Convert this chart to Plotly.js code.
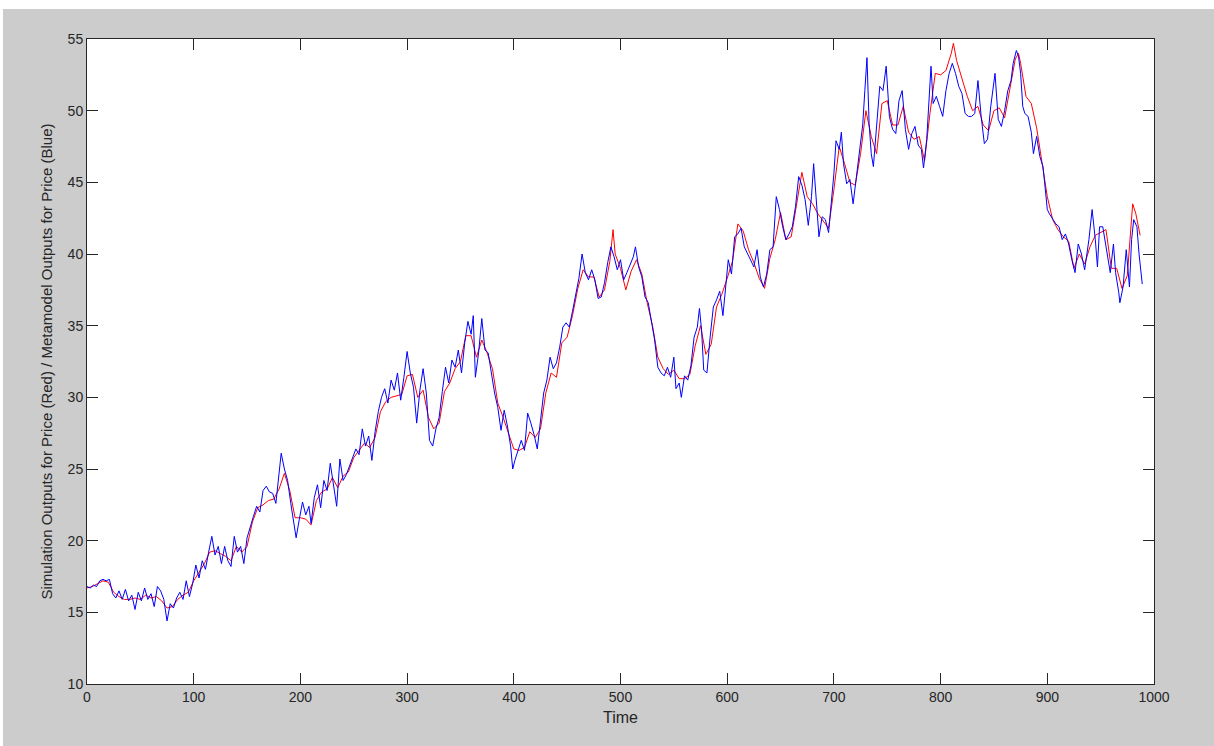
<!DOCTYPE html>
<html>
<head>
<meta charset="utf-8">
<script src="https://cdn.plot.ly/plotly-3.0.1.min.js"></script>
<style>
html,body{margin:0;padding:0;background:#ffffff;}
#frame{position:absolute;left:3px;top:9px;width:1211px;height:737px;background:#cccccc;}
#chart{width:1211px;height:737px;}
</style>
</head>
<body>
<div id="frame"><div id="chart"></div></div>
<script>
// Metamodel outputs (blue)
const blueTime = [0,3,6,9,12,15,18,21,24,27,30,33,36,39,42,45,48,51,54,57,60,63,66,69,72,75,78,81,84,87,90,93,96,99,
102,105,108,111,114,117,120,123,126,129,132,135,138,141,144,147,150,153,156,159,162,165,168,171,174,177,180,182,185,188,191,194,196,199,
202,205,208,210,213,216,219,222,225,228,231,234,237,240,243,246,249,252,255,258,261,264,267,270,273,276,279,282,285,288,291,294,297,
300,303,306,309,312,315,318,321,324,327,330,333,336,339,342,345,348,351,354,357,360,362,364,367,370,373,376,379,382,385,388,391,394,397,399,
401,404,407,410,413,416,419,422,425,428,431,434,437,440,443,446,449,452,455,458,461,464,467,470,473,476,479,482,485,488,491,494,497,
500,503,506,509,512,514,517,520,523,526,529,532,535,538,541,544,547,550,552,555,557,560,563,566,569,572,574,576,578,581,584,587,590,593,596,599,
601,604,607,610,613,616,619,622,625,628,631,634,637,640,643,646,649,652,655,658,661,664,667,670,673,676,679,681,684,686,689,692,695,698,
700,702,705,707,709,712,715,718,721,724,727,729,731,733,735,737,740,743,746,749,752,755,758,761,764,767,770,773,776,779,782,784,787,789,791,793,796,799,
802,805,808,811,814,817,820,823,826,829,832,835,838,841,844,847,851,854,857,860,863,866,868,871,873,875,877,879,882,885,887,890,893,896,898,
900,902,905,908,911,914,917,920,923,926,929,932,935,939,942,945,947,949,952,956,959,962,964,967,968,971,974,977,979,981,984,986,989];
const blueValue = [16.8,16.7,16.9,16.8,17.2,17.3,17.2,17.3,16.3,16.0,16.5,15.9,16.6,15.8,16.2,15.2,16.4,15.8,16.7,15.9,16.3,15.4,16.8,16.5,15.9,14.4,15.6,15.3,16.0,16.4,15.9,17.2,16.1,17.0,
18.3,17.4,18.6,18.0,19.2,20.3,19.0,19.6,18.4,19.6,18.6,18.2,20.3,19.2,19.6,18.4,20.2,21.0,21.7,22.4,22.0,23.5,23.8,23.4,23.3,22.6,24.5,26.1,25.0,24.2,22.6,21.2,20.2,21.5,
22.7,21.8,22.4,21.2,23.0,23.9,22.3,24.2,23.5,25.4,23.8,22.4,25.7,24.2,24.6,25.2,25.8,26.4,26.0,27.8,26.6,27.3,25.6,27.6,29.0,30.0,30.6,29.6,31.2,30.5,31.7,29.8,31.4,
33.2,31.7,30.7,28.2,30.5,32.0,30.3,27.0,26.6,27.8,28.6,30.4,32.1,31.0,32.6,32.1,33.3,31.7,33.8,35.3,34.4,35.7,31.4,33.1,35.5,33.3,33.1,31.7,30.3,29.3,27.7,29.1,28.0,26.6,25.0,
25.6,26.3,27.0,26.3,28.9,28.2,27.4,26.4,28.4,30.3,31.2,32.8,32.0,32.4,33.5,34.9,35.2,34.9,36.0,37.3,38.3,40.0,38.7,38.2,38.9,38.2,36.9,37.0,38.0,39.4,40.5,39.8,38.9,
39.6,38.2,38.7,39.3,39.8,40.5,39.1,38.4,37.0,36.6,35.2,34.0,32.1,31.7,31.5,32.1,31.4,32.8,30.6,31.0,30.0,31.5,31.2,32.2,34.2,34.9,36.2,34.7,31.9,31.7,34.2,36.3,36.8,37.4,35.7,37.9,
39.6,38.6,41.2,41.4,41.8,40.5,40.0,39.6,39.1,40.3,38.4,37.7,38.6,40.3,40.5,44.0,43.1,41.9,41.0,41.4,41.9,43.3,45.4,44.8,43.8,42.0,44.0,46.3,43.5,41.2,42.6,42.4,41.5,43.8,
45.6,47.9,47.3,48.5,46.3,44.9,45.2,43.5,45.4,47.0,49.0,51.4,53.7,49.1,47.0,46.1,49.1,51.7,51.4,53.1,49.6,48.7,48.4,50.7,51.4,48.7,47.3,48.4,48.9,47.6,47.3,46.0,48.0,50.3,53.1,50.5,51.0,50.3,
49.6,51.4,52.6,53.3,52.6,51.7,51.2,49.8,49.6,49.6,49.8,52.1,49.6,47.7,48.0,50.3,52.6,49.4,48.9,50.0,51.4,52.1,53.3,54.2,53.8,52.6,50.3,49.8,49.6,48.5,47.0,48.2,46.8,46.1,44.7,
43.1,42.8,42.4,42.1,41.9,41.0,41.4,40.7,39.6,38.7,40.7,40.0,38.9,41.0,43.1,41.0,39.1,41.9,41.9,40.0,38.7,40.7,38.7,37.3,36.6,37.7,40.3,37.7,41.0,42.4,41.9,40.0,37.9];

// Simulation outputs (red)
const redTime = [0,5,10,15,20,25,30,35,40,45,50,55,60,65,70,75,80,85,90,95,100,105,110,115,120,125,130,135,140,145,150,155,160,165,170,175,180,185,190,195,
200,205,210,215,220,225,230,235,240,245,250,255,260,265,270,275,280,285,290,295,300,305,310,315,320,325,330,335,340,345,350,355,360,365,370,375,380,385,390,395,
400,405,410,415,420,425,430,435,440,445,450,455,460,465,470,475,480,485,490,493,495,500,505,510,515,520,525,530,535,540,545,550,555,560,565,570,575,580,585,590,595,
600,605,610,615,620,625,630,635,640,645,650,655,660,665,670,675,680,685,690,695,700,705,710,715,720,725,730,735,740,745,750,755,760,765,770,775,780,785,790,795,
800,805,810,812,815,820,825,830,835,840,845,850,855,860,865,870,873,875,880,885,890,895,900,905,910,915,920,925,930,935,940,945,950,955,960,965,970,975,980,983,987];
const redValue = [16.7,16.8,17.0,17.2,17.1,16.4,16.1,15.9,15.9,16.0,15.9,16.2,16.0,16.1,15.8,15.3,15.4,15.9,16.2,16.4,17.2,17.8,18.4,19.2,19.3,19.1,18.9,18.6,19.6,19.2,19.6,21.3,22.3,22.5,22.8,22.9,23.6,24.7,23.5,21.6,
21.6,21.5,21.1,22.8,23.4,23.6,24.4,23.7,24.5,24.8,25.8,26.3,26.8,26.5,27.2,29.0,29.7,30.0,30.1,30.2,31.5,31.6,30.0,30.5,28.6,27.8,28.2,30.4,31.0,32.0,32.5,34.3,34.3,32.8,34.0,33.1,32.0,29.6,28.6,27.5,
26.4,26.3,26.5,27.6,27.2,27.8,30.3,31.7,31.4,33.8,34.2,35.7,37.6,38.9,38.4,38.4,37.0,37.5,39.5,41.7,40.0,39.0,37.5,38.8,39.6,38.6,36.6,35.0,32.8,32.0,31.6,31.9,31.3,31.3,31.6,33.6,35.0,33.0,33.7,36.3,37.2,
38.3,39.5,42.1,41.6,40.3,39.4,38.3,37.6,39.7,41.0,42.9,41.0,41.2,43.5,45.7,44.0,43.5,42.8,42.3,41.8,44.5,47.5,46.3,45.0,44.8,47.0,50.0,48.2,47.0,50.5,50.7,49.0,49.0,50.3,48.5,48.0,48.2,46.5,49.8,52.6,
52.5,52.8,54.0,54.7,53.5,52.3,51.0,50.0,50.3,49.0,48.6,50.0,50.2,49.5,51.5,53.6,54.0,53.3,51.0,50.5,48.8,46.5,44.0,42.4,41.7,41.2,40.9,39.0,40.0,39.3,40.5,41.3,41.5,41.7,39.0,39.0,37.6,38.5,43.5,42.8,41.3];

const xTicks = [0,100,200,300,400,500,600,700,800,900,1000];
const yTicks = [10,15,20,25,30,35,40,45,50,55];

const traces = [
  {x: redTime, y: redValue, type: 'scatter', mode: 'lines', line: {color: '#ff0000', width: 1}, hoverinfo: 'skip'},
  {x: blueTime, y: blueValue, type: 'scatter', mode: 'lines', line: {color: '#0000ff', width: 1}, hoverinfo: 'skip'}
];

const axisCommon = {
  showgrid: false, zeroline: false, showline: true, linecolor: '#262626', linewidth: 1,
  mirror: 'ticks', ticks: 'inside', ticklen: 11, tickcolor: '#262626', tickwidth: 1,
  tickfont: {family: 'Liberation Sans, Arial, sans-serif', size: 14, color: '#262626'}
};

const layout = {
  width: 1211, height: 737,
  margin: {l: 84, r: 60, t: 30, b: 62, pad: 0},
  paper_bgcolor: '#cccccc', plot_bgcolor: '#ffffff',
  showlegend: false,
  xaxis: Object.assign({}, axisCommon, {
    range: [0, 1000], tickvals: xTicks, ticktext: xTicks.map(String),
    title: {text: 'Time', font: {family: 'Liberation Sans, Arial, sans-serif', size: 16, color: '#262626'}, standoff: 8}
  }),
  yaxis: Object.assign({}, axisCommon, {
    range: [10, 55], tickvals: yTicks, ticktext: yTicks.map(String),
    title: {text: 'Simulation Outputs for Price (Red) / Metamodel Outputs for Price (Blue)', font: {family: 'Liberation Sans, Arial, sans-serif', size: 15, color: '#262626'}, standoff: 11}
  })
};

Plotly.newPlot('chart', traces, layout, {displayModeBar: false, staticPlot: true});
</script>
</body>
</html>
